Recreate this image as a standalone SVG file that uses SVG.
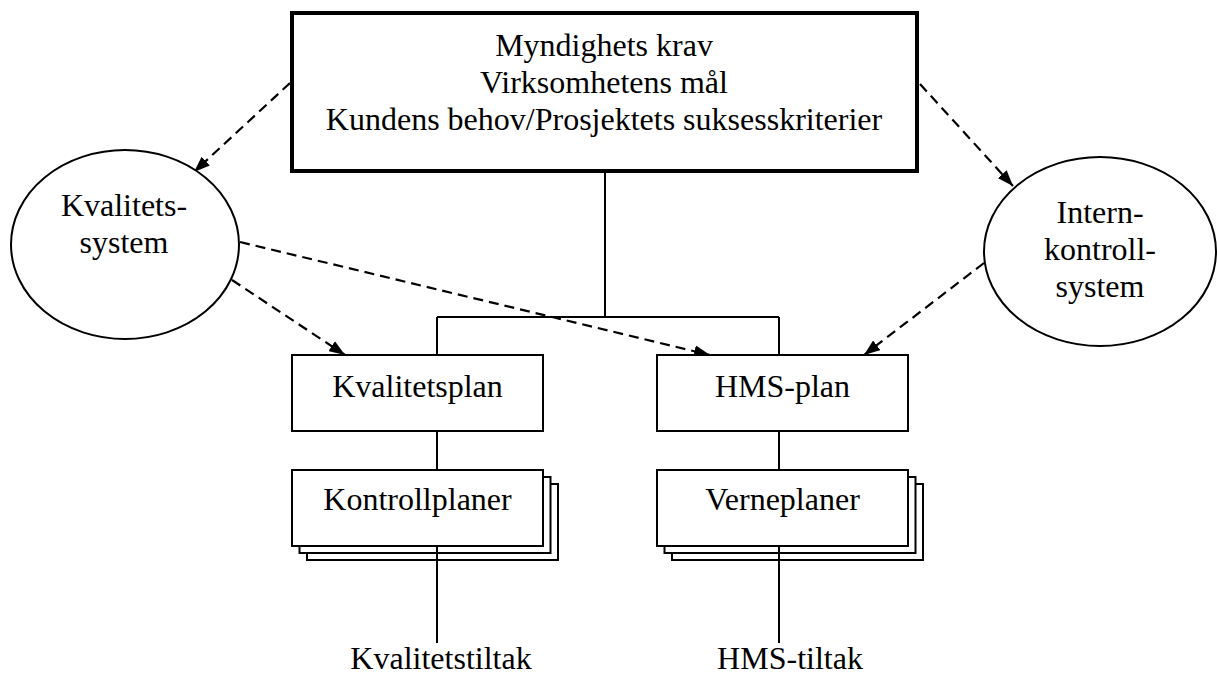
<svg xmlns="http://www.w3.org/2000/svg" width="1217" height="677" viewBox="0 0 1217 677">
<style>
text{font-family:"Liberation Serif","Times New Roman",serif;font-size:32px;fill:#000;text-anchor:middle}
.box{fill:#fff;stroke:#000;stroke-width:2}
.thick{fill:#fff;stroke:#000;stroke-width:4}
.ln{fill:none;stroke:#000;stroke-width:2}
.dash{fill:none;stroke:#000;stroke-width:2.2;stroke-dasharray:10 6;marker-end:url(#ah)}
</style>
<defs>
<marker id="ah" viewBox="0 0 16 12" refX="16" refY="6" markerWidth="16" markerHeight="12" markerUnits="userSpaceOnUse" orient="auto">
<path d="M0,0 L16,6 L0,12 z" fill="#000"/>
</marker>
</defs>
<g id="connectors">
<path class="ln" d="M605,171 V317 M437,317 H779 M437,317 V355 M779,317 V355 M437,431 V470 M779,431 V470"/>
<path class="dash" d="M290,83 L194,172"/>
<path class="dash" d="M920,84 L1013,186"/>
<path class="dash" d="M232,280 L345,355"/>
<path class="dash" d="M240,242 L710,355"/>
<path class="dash" d="M984,263 L864,355"/>
</g>
<g id="top">
<rect class="thick" x="292" y="13" width="625" height="158"/>
<text x="604" y="56">Myndighets krav</text>
<text x="604" y="93">Virksomhetens mål</text>
<text x="604" y="130">Kundens behov/Prosjektets suksesskriterier</text>
</g>
<g id="kvalitetssystem">
<ellipse class="box" cx="125" cy="244.5" rx="114" ry="94.5"/>
<text x="124" y="216">Kvalitets-</text>
<text x="124" y="253">system</text>
</g>
<g id="internkontroll">
<ellipse class="box" cx="1100" cy="251.5" rx="116" ry="94.5"/>
<text x="1100" y="223">Intern-</text>
<text x="1100" y="260">kontroll-</text>
<text x="1100" y="297">system</text>
</g>
<g id="kvalitetsplan">
<rect class="box" x="292" y="355" width="251" height="76"/>
<text x="417.5" y="397">Kvalitetsplan</text>
</g>
<g id="hmsplan">
<rect class="box" x="657" y="355" width="251" height="76"/>
<text x="782.5" y="397">HMS-plan</text>
</g>
<g id="kontrollplaner">
<rect class="box" x="307" y="484" width="251" height="76"/>
<rect class="box" x="299.5" y="477" width="251" height="76"/>
<rect class="box" x="292" y="470" width="251" height="76"/>
<text x="417.5" y="510">Kontrollplaner</text>
</g>
<g id="verneplaner">
<rect class="box" x="672" y="484" width="251" height="76"/>
<rect class="box" x="664.5" y="477" width="251" height="76"/>
<rect class="box" x="657" y="470" width="251" height="76"/>
<text x="782.5" y="510">Verneplaner</text>
</g>
<path class="ln" d="M437,546 V643 M779,546 V643"/>
<g id="kvalitetstiltak">
<text x="441" y="669">Kvalitetstiltak</text>
</g>
<g id="hmstiltak">
<text x="790" y="669">HMS-tiltak</text>
</g>
</svg>
